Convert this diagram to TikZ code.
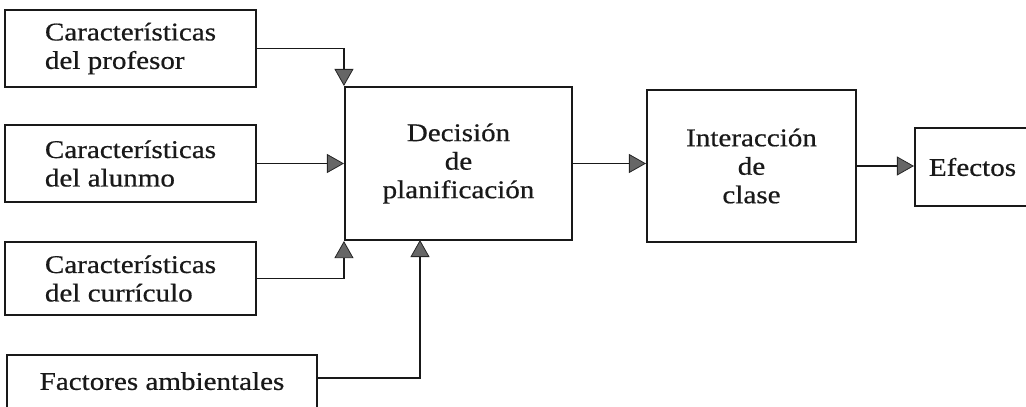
\documentclass[tikz,border=0pt]{standalone}
\usepackage{fontspec}
\setmainfont{Liberation Serif}[FakeStretch=1.14,FakeBold=0.6]
\usetikzlibrary{arrows.meta}
\begin{document}
\begin{tikzpicture}[x=1pt,y=-1pt,
  box/.style={draw=black!90, line width=2.1pt, inner sep=0pt, font=\fontsize{25.5}{28.5}\selectfont, text=black!90},
  conn/.style={draw=black!90, line width=1.4pt, -{Triangle[length=17pt,width=19pt,fill=black!60,color=black!85,line width=0.8pt]}}]
\useasboundingbox (0,0) rectangle (1026,407);
\clip (0,0) rectangle (1026,407);
\node[box, minimum width=251pt, minimum height=77pt, align=left] (prof) at (130.5,48.5) {Características\\del profesor};
\node[box, minimum width=251pt, minimum height=77pt, align=left] (alum) at (130.5,163.5) {Características\\del alunmo};
\node[box, minimum width=251pt, minimum height=73pt, align=left] (curr) at (130.5,278.5) {Características\\del currículo};
\node[box, minimum width=310pt, minimum height=57pt] (fact) at (162,383.5) {\raisebox{5pt}{Factores ambientales}};
\node[box, minimum width=227pt, minimum height=153pt, align=center] (dec) at (458.5,163.5) {Decisión\\de\\planificación};
\node[box, minimum width=209pt, minimum height=152pt, align=center] (int) at (751.5,166) {Interacción\\de\\clase};
\node[box, minimum width=115pt, minimum height=78pt] (eff) at (972.5,167) {Efectos};
\coordinate (dbot) at (420,240);
\draw[conn] (prof.east) -| (dec.north west);
\draw[conn] (alum.east) -- (dec.west);
\draw[conn] (curr.east) -| (dec.south west);
\draw[conn] ([yshift=5.5pt]fact.east) -| (dbot);
\draw[conn] (dec.east) -- (dec.east -| int.west);
\draw[conn] (int.east) -- (int.east -| eff.west);
\end{tikzpicture}
\end{document}
